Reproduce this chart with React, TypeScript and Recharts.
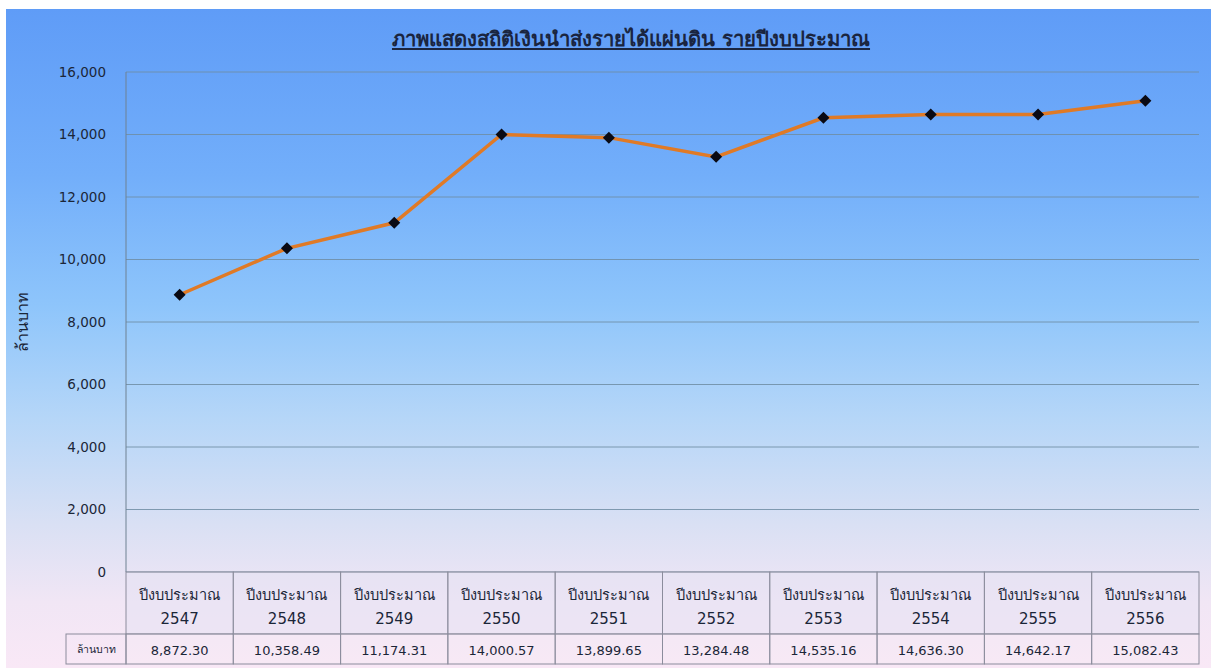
import { CartesianGrid, Label, Line, LineChart, XAxis, YAxis } from "recharts";

// เงินนำส่งรายได้แผ่นดิน (ล้านบาท) by fiscal year
const years = ["2547", "2548", "2549", "2550", "2551", "2552", "2553", "2554", "2555", "2556"];
const values = [8872.3, 10358.49, 11174.31, 14000.57, 13899.65, 13284.48, 14535.16, 14636.3, 14642.17, 15082.43];
const yTicks = [0, 2000, 4000, 6000, 8000, 10000, 12000, 14000, 16000];

const title = "ภาพแสดงสถิติเงินนำส่งรายได้แผ่นดิน รายปีงบประมาณ";
const unit = "ล้านบาท";
const catPrefix = "ปีงบประมาณ";

const data = years.map((y, i) => ({ year: y, value: values[i] }));

const W = 1211;
const H = 668;
const PLOT_LEFT = 126;
const PLOT_RIGHT = 1199;
const PLOT_BOTTOM = 572;
const ROW1 = 62;
const ROW2 = 30;
const FONT = "Tahoma, 'DejaVu Sans', sans-serif";
const TEXT = "#1b2638";
const BORDER = "#8b8c9c";

const fmt = (n: number) =>
  n.toLocaleString("en-US", { minimumFractionDigits: 2, maximumFractionDigits: 2 });

function TableTick(props: any) {
  const { x, payload, index } = props;
  const bw = (PLOT_RIGHT - PLOT_LEFT) / years.length;
  const left = x - bw / 2;
  const y0 = PLOT_BOTTOM;
  return (
    <g fontFamily={FONT}>
      <rect x={left} y={y0} width={bw} height={ROW1} fill="#e6e1f2" fillOpacity={0.55} stroke={BORDER} />
      <rect x={left} y={y0 + ROW1} width={bw} height={ROW2} fill="#f4eaf5" fillOpacity={0.4} stroke={BORDER} />
      <text x={x} y={y0 + 28} textAnchor="middle" fontSize={14.5} fill={TEXT}>
        {catPrefix}
      </text>
      <text x={x} y={y0 + 52} textAnchor="middle" fontSize={15} fill={TEXT}>
        {payload.value}
      </text>
      <text x={x} y={y0 + ROW1 + 21} textAnchor="middle" fontSize={13} fill={TEXT}>
        {fmt(values[index])}
      </text>
      {index === 0 && (
        <g>
          <rect x={66} y={y0 + ROW1} width={left - 66} height={ROW2} fill="none" stroke={BORDER} />
          <text x={(66 + left) / 2} y={y0 + ROW1 + 19} textAnchor="middle" fontSize={10.5} fill={TEXT}>
            {unit}
          </text>
        </g>
      )}
    </g>
  );
}

function Diamond(props: any) {
  const { cx, cy } = props;
  if (cx == null || cy == null) return null;
  const r = 6;
  return (
    <polygon
      points={`${cx},${cy - r} ${cx + r},${cy} ${cx},${cy + r} ${cx - r},${cy}`}
      fill="#0a0a14"
    />
  );
}

export default function App() {
  return (
    <div style={{ position: "absolute", left: 0, top: 0, width: W, height: H, background: "#fff" }}>
      <div
        style={{
          position: "absolute",
          left: 6,
          top: 9,
          width: W - 6,
          height: H - 9,
          background:
            "linear-gradient(180deg, #5f9cf7 0%, #72aefa 25%, #8ec5fb 45%, #b5d6f8 62%, #d9e0f4 78%, #f1e6f5 90%, #f9e8f6 100%)",
        }}
      />
      <div
        style={{
          position: "absolute",
          left: 631,
          top: 23,
          transform: "translateX(-50%)",
          whiteSpace: "nowrap",
          fontFamily: FONT,
          fontSize: 20.3,
          fontWeight: 700,
          color: "#1a2540",
          textDecoration: "underline",
        }}
      >
        {title}
      </div>
      <div style={{ position: "absolute", left: 0, top: 0 }}>
        <LineChart
          width={W}
          height={H}
          data={data}
          margin={{ top: 72, right: W - PLOT_RIGHT, bottom: H - PLOT_BOTTOM - ROW1 - ROW2 - 4, left: 0 }}
        >
          <CartesianGrid vertical={false} stroke="#6f8da3" strokeOpacity={0.85} />
          <XAxis
            dataKey="year"
            scale="band"
            interval={0}
            axisLine={false}
            tickLine={false}
            height={ROW1 + ROW2 + 4}
            tick={<TableTick />}
          />
          <YAxis
            width={PLOT_LEFT}
            domain={[0, 16000]}
            ticks={yTicks}
            tickLine={false}
            tickSize={0}
            tickMargin={20}
            axisLine={{ stroke: "#6f8192" }}
            tick={{ fontSize: 13.5, fill: TEXT, fontFamily: FONT }}
            tickFormatter={(v: number) => v.toLocaleString("en-US")}
          >
            <Label
              value={unit}
              angle={-90}
              position="insideLeft"
              offset={22}
              style={{ fontSize: 16, fill: TEXT, fontFamily: FONT, textAnchor: "middle" }}
            />
          </YAxis>
          <Line
            type="linear"
            dataKey="value"
            stroke="#e07a26"
            strokeWidth={3.5}
            dot={<Diamond />}
            activeDot={false}
            isAnimationActive={false}
          />
        </LineChart>
      </div>
    </div>
  );
}
